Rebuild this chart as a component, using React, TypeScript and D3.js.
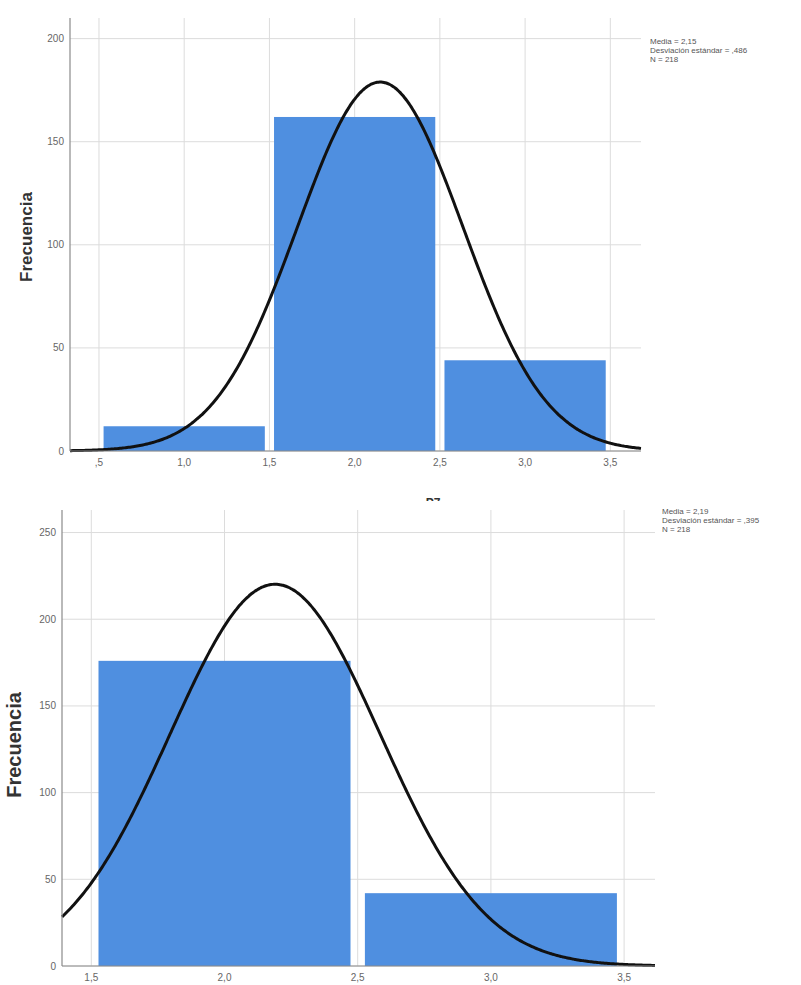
import React from "react";
import * as d3 from "d3";

// Chart 1
const bins1 = [1, 2, 3];
const counts1 = [12, 162, 44];
const xTicks1 = [0.5, 1.0, 1.5, 2.0, 2.5, 3.0, 3.5];
const xTickLabels1 = [",5", "1,0", "1,5", "2,0", "2,5", "3,0", "3,5"];
const yTicks1 = [0, 50, 100, 150, 200];
const stats1 = ["Media = 2,15", "Desviación estándar = ,486", "N = 218"];
const mean1 = 2.15;
const sd1 = 0.486;

// Chart 2
const bins2 = [2, 3];
const counts2 = [176, 42];
const xTicks2 = [1.5, 2.0, 2.5, 3.0, 3.5];
const xTickLabels2 = ["1,5", "2,0", "2,5", "3,0", "3,5"];
const yTicks2 = [0, 50, 100, 150, 200, 250];
const stats2 = ["Media = 2,19", "Desviación estándar = ,395", "N = 218"];
const mean2 = 2.19;
const sd2 = 0.395;
const N = 218;

type HistProps = {
  left: number; right: number; top: number; bottom: number;
  xDomain: [number, number]; yDomain: [number, number];
  bins: number[]; counts: number[]; xTicks: number[]; xLabels: string[];
  yTicks: number[]; stats: string[]; mean: number; sd: number;
  titleX: number; titleY: number; titleSize: number; statsX: number; statsY: number;
};

function Hist(p: HistProps) {
  const x = d3.scaleLinear().domain(p.xDomain).range([p.left, p.right]);
  const y = d3.scaleLinear().domain(p.yDomain).range([p.bottom, p.top]);
  const binW = x(1) - x(0);
  const inset = binW * 0.027;
  const pts = d3.range(0, 401).map((i) => {
    const v = p.xDomain[0] + ((p.xDomain[1] - p.xDomain[0]) * i) / 400;
    const dens = Math.exp(-0.5 * ((v - p.mean) / p.sd) ** 2) / (p.sd * Math.sqrt(2 * Math.PI));
    return [v, N * dens] as [number, number];
  });
  const line = d3.line<[number, number]>().x((d) => x(d[0])).y((d) => y(d[1])).curve(d3.curveBasis);
  const gridTop = y(p.yDomain[1]);
  return (
    <g fontFamily="Arial, 'Liberation Sans', sans-serif">
      {p.yTicks.map((t) => (
        <line key={"gy" + t} x1={p.left} x2={p.right} y1={y(t)} y2={y(t)} stroke="#dcdcdc" strokeWidth={1} />
      ))}
      {p.xTicks.map((t) => (
        <line key={"gx" + t} x1={x(t)} x2={x(t)} y1={gridTop} y2={p.bottom} stroke="#dcdcdc" strokeWidth={1} />
      ))}
      {p.bins.map((b, i) => (
        <rect key={"b" + b} x={x(b - 0.5) + inset} width={binW - 2 * inset} y={y(p.counts[i])}
          height={p.bottom - y(p.counts[i])} fill="#4f8fe0" />
      ))}
      <path d={line(pts) || ""} fill="none" stroke="#111" strokeWidth={3} />
      <line x1={p.left} x2={p.left} y1={gridTop} y2={p.bottom} stroke="#8a8a8a" strokeWidth={1.2} />
      <line x1={p.left} x2={p.right} y1={p.bottom} y2={p.bottom} stroke="#8a8a8a" strokeWidth={1.2} />
      {p.yTicks.map((t) => (
        <text key={"ty" + t} x={p.left - 6} y={y(t) + 3.5} fontSize={10} fill="#666" textAnchor="end">{t}</text>
      ))}
      {p.xTicks.map((t, i) => (
        <text key={"tx" + t} x={x(t)} y={p.bottom + 15} fontSize={10} fill="#666" textAnchor="middle">{p.xLabels[i]}</text>
      ))}
      <text transform={`translate(${p.titleX},${p.titleY}) rotate(-90)`} fontSize={p.titleSize}
        fontWeight="bold" fill="#333" textAnchor="middle">Frecuencia</text>
      {p.stats.map((s, i) => (
        <text key={"s" + i} x={p.statsX} y={p.statsY + i * 9} fontSize={8} fill="#555">{s}</text>
      ))}
    </g>
  );
}

export default function App() {
  return (
    <svg width={801} height={985} style={{ position: "absolute", left: 0, top: 0, background: "#fff" }}>
      <rect width={801} height={985} fill="#fff" />
      <Hist left={70} right={641} top={18} bottom={451}
        xDomain={[0.33, 3.68]} yDomain={[0, 210]}
        bins={bins1} counts={counts1} xTicks={xTicks1} xLabels={xTickLabels1}
        yTicks={yTicks1} stats={stats1} mean={mean1} sd={sd1}
        titleX={32} titleY={237} titleSize={17} statsX={650} statsY={44} />
      <defs>
        <clipPath id="cut"><rect x={400} y={480} width={80} height={21} /></clipPath>
      </defs>
      <text x={433} y={507} fontSize={12} fontWeight="bold" fill="#333" textAnchor="middle"
        fontFamily="Arial, sans-serif" clipPath="url(#cut)">P7</text>
      <Hist left={62} right={655} top={510} bottom={966}
        xDomain={[1.39, 3.616]} yDomain={[0, 263]}
        bins={bins2} counts={counts2} xTicks={xTicks2} xLabels={xTickLabels2}
        yTicks={yTicks2} stats={stats2} mean={mean2} sd={sd2}
        titleX={21} titleY={745} titleSize={20} statsX={662} statsY={514} />
    </svg>
  );
}
